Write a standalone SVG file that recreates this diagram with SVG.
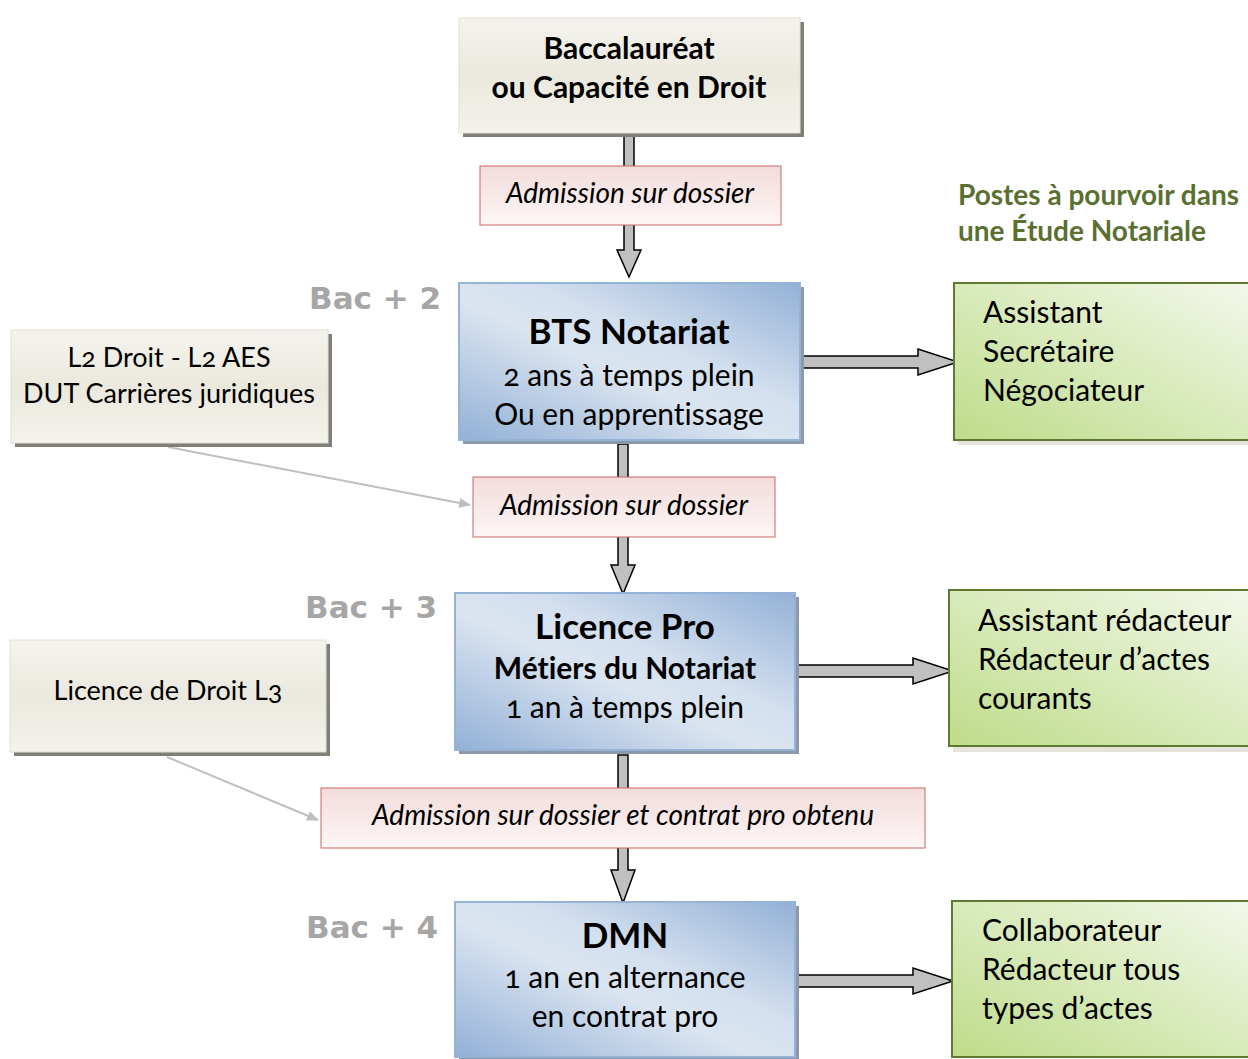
<svg xmlns="http://www.w3.org/2000/svg" width="1248" height="1059" viewBox="0 0 1248 1059">
<defs>
<linearGradient id="gBeige" x1="0" y1="0" x2="0" y2="1">
<stop offset="0" stop-color="#f4f3ee"/><stop offset="0.5" stop-color="#ebe9de"/><stop offset="1" stop-color="#f3f2ec"/>
</linearGradient>
<linearGradient id="gBlue" x1="0" y1="1" x2="1" y2="0">
<stop offset="0" stop-color="#92b0d6"/><stop offset="0.45" stop-color="#dbe5f1"/><stop offset="0.6" stop-color="#d4e0ef"/><stop offset="1" stop-color="#93b1d6"/>
</linearGradient>
<linearGradient id="gGreen" x1="0" y1="1" x2="1" y2="0">
<stop offset="0" stop-color="#bedc8a"/><stop offset="1" stop-color="#f3f8eb"/>
</linearGradient>
<linearGradient id="gRed" x1="0" y1="0" x2="0" y2="1">
<stop offset="0" stop-color="#f2dcdb"/><stop offset="1" stop-color="#fdf6f6"/>
</linearGradient>
<marker id="thin" markerWidth="12" markerHeight="10" refX="11" refY="5" orient="auto" markerUnits="userSpaceOnUse">
<path d="M0,0 L12,5 L0,10 Z" fill="#bfbfbf"/>
</marker>
<style>
text{font-family:"Lato","Open Sans",sans-serif;fill:#000;font-variant-numeric:oldstyle-nums;font-variant-ligatures:none}
.beige{fill:url(#gBeige);stroke:#e2e0d4;stroke-width:1}
.shadow{fill:#7f7f78}
.bshadow{fill:#8d99a8}
.blue{fill:url(#gBlue);stroke:#95b3d7;stroke-width:2}
.green{fill:url(#gGreen);stroke:#5f7a30;stroke-width:2}
.gshadow{fill:#e6e4da}
.red{fill:url(#gRed);stroke:#cc6666;stroke-width:1}
.big{font-size:30px;font-weight:bold;text-anchor:middle}
.title{font-size:35px;font-weight:bold;text-anchor:middle}
.sub{font-size:30px;text-anchor:middle}
.job{font-size:30px}
.adm{font-size:28px;font-style:italic;text-anchor:middle}
.bac{font-family:"DejaVu Sans","Liberation Sans",sans-serif;font-size:31px;font-weight:bold;fill:#a6a6a6}
.side{font-size:27px;text-anchor:middle}
.arrow{fill:#c0c0c0;stroke:#000;stroke-width:1.5;stroke-linejoin:miter}
.gray{stroke:#bfbfbf;stroke-width:2;fill:none}
.gt{font-size:28px;font-weight:bold;fill:#5a7030}
</style>
</defs>

<g id="connectors">
<path class="arrow" d="M624,136 H634 V250 H641 L629,277 L617,250 H624 Z"/>
<path class="arrow" d="M618,444 H628 V565 H635 L623,594 L611,565 H618 Z"/>
<path class="arrow" d="M618,755 H628 V870 H635 L623,903 L611,870 H618 Z"/>
<path class="arrow" d="M802,356 H918 V349 L958,362 L918,375 V368 H802 Z"/>
<path class="arrow" d="M797,665 H913 V658 L953,671 L913,684 V677 H797 Z"/>
<path class="arrow" d="M797,975 H913 V968 L953,981 L913,994 V987 H797 Z"/>
<line class="gray" x1="168" y1="447" x2="470" y2="505" marker-end="url(#thin)"/>
<line class="gray" x1="167" y1="757" x2="318" y2="820" marker-end="url(#thin)"/>
</g>

<g id="bac">
<rect class="shadow" x="463" y="22" width="341" height="115"/>
<rect class="beige" x="459" y="18" width="341" height="115"/>
<text class="big" x="629" y="59">Baccalauréat</text>
<text class="big" x="629" y="98">ou Capacité en Droit</text>
</g>

<g id="adm1">
<rect class="red" x="480" y="166" width="301" height="59"/>
<text class="adm" x="630" y="203">Admission sur dossier</text>
</g>

<g id="postes-title">
<text class="gt" x="958" y="205">Postes à pourvoir dans</text>
<text class="gt" x="958" y="241">une Étude Notariale</text>
</g>

<g id="bac2"><text class="bac" x="309" y="309">Bac + 2</text></g>

<g id="bts">
<rect class="bshadow" x="463" y="287" width="341" height="157"/>
<rect class="blue" x="459" y="283" width="341" height="157"/>
<text class="title" x="629" y="344">BTS Notariat</text>
<text class="sub" x="629" y="386">2 ans à temps plein</text>
<text class="sub" x="629" y="425">Ou en apprentissage</text>
</g>

<g id="jobs1">
<rect class="gshadow" x="958" y="287" width="294" height="158"/>
<rect class="green" x="954" y="283" width="300" height="157"/>
<text class="job" x="983" y="323">Assistant</text>
<text class="job" x="983" y="362">Secrétaire</text>
<text class="job" x="983" y="401">Négociateur</text>
</g>

<g id="l2">
<rect class="shadow" x="15" y="334" width="317" height="113"/>
<rect class="beige" x="11" y="330" width="317" height="113"/>
<text class="side" x="169" y="367">L2 Droit - L2 AES</text>
<text class="side" x="169" y="403">DUT Carrières juridiques</text>
</g>

<g id="adm2">
<rect class="red" x="473" y="477" width="302" height="60"/>
<text class="adm" x="624" y="515">Admission sur dossier</text>
</g>

<g id="bac3"><text class="bac" x="305" y="618">Bac + 3</text></g>

<g id="lpro">
<rect class="bshadow" x="459" y="597" width="340" height="157"/>
<rect class="blue" x="455" y="593" width="340" height="157"/>
<text class="title" x="625" y="639">Licence Pro</text>
<text class="big" x="625" y="679">Métiers du Notariat</text>
<text class="sub" x="625" y="718">1 an à temps plein</text>
</g>

<g id="jobs2">
<rect class="gshadow" x="953" y="594" width="299" height="158"/>
<rect class="green" x="949" y="590" width="305" height="156"/>
<text class="job" x="978" y="631">Assistant rédacteur</text>
<text class="job" x="978" y="670">Rédacteur d’actes</text>
<text class="job" x="978" y="709">courants</text>
</g>

<g id="l3">
<rect class="shadow" x="14" y="644" width="316" height="112"/>
<rect class="beige" x="10" y="640" width="316" height="112"/>
<text class="side" x="168" y="700">Licence de Droit L3</text>
</g>

<g id="adm3">
<rect class="red" x="321" y="788" width="604" height="60"/>
<text class="adm" x="623" y="825">Admission sur dossier et contrat pro obtenu</text>
</g>

<g id="bac4"><text class="bac" x="306" y="938">Bac + 4</text></g>

<g id="dmn">
<rect class="bshadow" x="459" y="906" width="340" height="157"/>
<rect class="blue" x="455" y="902" width="340" height="155"/>
<text class="title" x="625" y="948">DMN</text>
<text class="sub" x="625" y="988">1 an en alternance</text>
<text class="sub" x="625" y="1027">en contrat pro</text>
</g>

<g id="jobs3">
<rect class="green" x="952" y="901" width="302" height="156"/>
<text class="job" x="982" y="941">Collaborateur</text>
<text class="job" x="982" y="980">Rédacteur tous</text>
<text class="job" x="982" y="1019">types d’actes</text>
</g>
</svg>
